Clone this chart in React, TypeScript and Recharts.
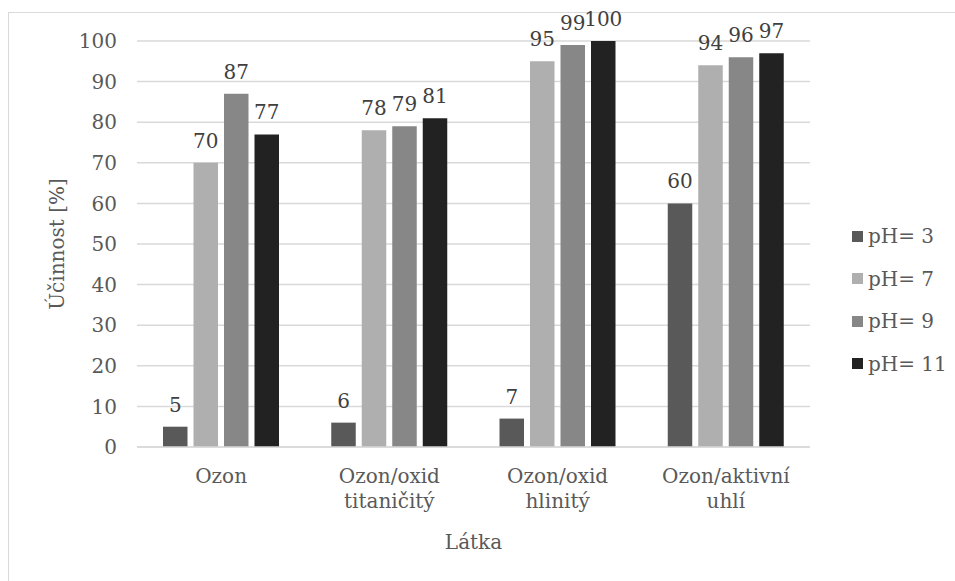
import React from 'react';
import { BarChart, Bar, XAxis, YAxis, CartesianGrid, Legend, LabelList } from 'recharts';

const CATEGORIES = ['Ozon', 'Ozon/oxid titaničitý', 'Ozon/oxid hlinitý', 'Ozon/aktivní uhlí'];
const PH_3 = [5, 6, 7, 60];
const PH_7 = [70, 78, 95, 94];
const PH_9 = [87, 79, 99, 96];
const PH_11 = [77, 81, 100, 97];
const Y_TICKS = [0, 10, 20, 30, 40, 50, 60, 70, 80, 90, 100];

const SERIES = [
  { key: 'ph3', name: 'pH= 3', values: PH_3, color: '#595959' },
  { key: 'ph7', name: 'pH= 7', values: PH_7, color: '#afafaf' },
  { key: 'ph9', name: 'pH= 9', values: PH_9, color: '#878787' },
  { key: 'ph11', name: 'pH= 11', values: PH_11, color: '#222222' },
];

const data = CATEGORIES.map((name, i) => {
  const row: Record<string, string | number> = { name };
  SERIES.forEach(s => {
    row[s.key] = s.values[i];
  });
  return row;
});

// Times-like serif is not installed here, DejaVu Serif is the closest serif face
const FONT = 'DejaVu Serif';
const FS = 20;
const TEXT = '#595959';
const GRID = '#d9d9d9';

const CategoryTick = (props: any) => {
  const { x, y, payload } = props;
  const words = String(payload.value).split(' ');
  return (
    <text x={x} y={y} textAnchor="middle" fill={TEXT} fontSize={FS} fontFamily={FONT}>
      {words.map((w, i) => (
        <tspan key={i} x={x} dy={i === 0 ? 36 : 25}>
          {w}
        </tspan>
      ))}
    </text>
  );
};

const renderLegend = () => (
  <div style={{ fontFamily: FONT, fontSize: FS, color: TEXT }}>
    {SERIES.map(s => (
      <div key={s.key} style={{ display: 'flex', alignItems: 'center', height: 42.5 }}>
        <span style={{ display: 'inline-block', width: 11, height: 11, background: s.color, marginRight: 5 }} />
        <span>{s.name}</span>
      </div>
    ))}
  </div>
);

export default function App() {
  return (
    <div style={{ position: 'absolute', left: 0, top: 0, width: 955, height: 581, fontFamily: FONT }}>
      <div
        style={{
          position: 'absolute',
          left: 8,
          top: 12,
          width: 947,
          height: 569,
          borderTop: `1px solid ${GRID}`,
          borderLeft: `1px solid ${GRID}`,
          boxSizing: 'border-box',
        }}
      />
      <div style={{ position: 'absolute', left: 0, top: 0 }}>
        <BarChart
          width={955}
          height={581}
          data={data}
          margin={{ top: 41, right: 145, bottom: 34, left: 57 }}
          barSize={24.5}
          barGap={6}
          style={{ fontFamily: FONT }}
        >
          <CartesianGrid vertical={false} stroke={GRID} strokeWidth={1.5} />
          <XAxis
            dataKey="name"
            height={100}
            interval={0}
            tickLine={false}
            tickSize={0}
            tickMargin={0}
            axisLine={{ stroke: GRID, strokeWidth: 1.5 }}
            tick={<CategoryTick />}
            label={{
              content: (p: any) => {
                const vb = p.viewBox;
                return (
                  <text
                    x={vb.x + vb.width / 2}
                    y={vb.y + 102}
                    textAnchor="middle"
                    fill={TEXT}
                    fontSize={FS}
                    fontFamily={FONT}
                  >
                    Látka
                  </text>
                );
              },
            }}
          />
          <YAxis
            width={80}
            domain={[0, 100]}
            ticks={Y_TICKS}
            interval={0}
            axisLine={false}
            tickLine={false}
            tickSize={0}
            tickMargin={20}
            tick={{ fill: TEXT, fontSize: FS, fontFamily: FONT }}
            label={{
              content: (p: any) => {
                const vb = p.viewBox;
                const cx = vb.x;
                const cy = vb.y + vb.height / 2;
                return (
                  <text
                    x={cx}
                    y={cy}
                    transform={`rotate(-90, ${cx}, ${cy})`}
                    textAnchor="middle"
                    dominantBaseline="central"
                    fill={TEXT}
                    fontSize={FS}
                    fontFamily={FONT}
                  >
                    Účinnost [%]
                  </text>
                );
              },
            }}
          />
          <Legend
            layout="horizontal"
            verticalAlign="middle"
            align="center"
            content={renderLegend}
            wrapperStyle={{ position: 'absolute', left: 852, top: 215, width: 100 }}
          />
          {SERIES.map(s => (
            <Bar key={s.key} dataKey={s.key} name={s.name} fill={s.color} isAnimationActive={false}>
              <LabelList
                dataKey={s.key}
                position="top"
                offset={15}
                fill="#404040"
                fontSize={FS}
                fontFamily={FONT}
              />
            </Bar>
          ))}
        </BarChart>
      </div>
    </div>
  );
}
